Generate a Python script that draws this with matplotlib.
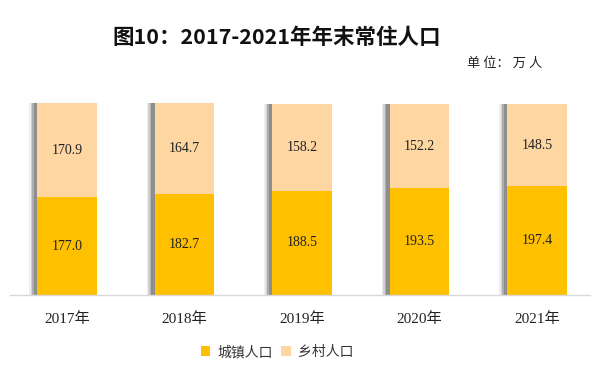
import matplotlib
matplotlib.use("Agg")
import matplotlib.pyplot as plt

years = ["2017年", "2018年", "2019年", "2020年", "2021年"]
urban = [177.0, 182.7, 188.5, 193.5, 197.4]
rural = [170.9, 164.7, 158.2, 152.2, 148.5]

c_urban = "#FFC000"
c_rural = "#FDD6A2"
cjk = ['Noto Sans CJK SC', 'DejaVu Sans']
serif = ['Liberation Serif', 'Noto Sans CJK SC']

fig = plt.figure(figsize=(6, 3.78), dpi=100)
ax = fig.add_axes([10/600, 83/378, 580/600, 192/378])

x = list(range(len(years)))
w = 0.51
tot = [u + r for u, r in zip(urban, rural)]

# soft shadow on left
for k, a in enumerate([0.12, 0.22, 0.35, 0.5]):
    off = 0.065 - k * 0.012
    ax.bar([i - off for i in x], tot, width=w, color="#6f6f6f", alpha=a,
           zorder=1, linewidth=0)

ax.bar(x, urban, width=w, color=c_urban, zorder=3, linewidth=0, label="城镇人口")
ax.bar(x, rural, width=w, bottom=urban, color=c_rural, zorder=3, linewidth=0, label="乡村人口")

for i in x:
    ax.text(i, urban[i] / 2, f"{urban[i]:.1f}", ha="center", va="center",
            fontsize=10, family=serif, color="#222222", zorder=4)
    ax.text(i, urban[i] + rural[i] / 2, f"{rural[i]:.1f}", ha="center", va="center",
            fontsize=10, family=serif, color="#222222", zorder=4)

ax.set_xlim(-0.485, 4.451)
ax.set_ylim(0, 348)
ax.set_yticks([])
ax.set_xticks(x)
ax.set_xticklabels(years, family=serif, fontsize=11, color="#222222")
ax.tick_params(axis="x", length=0, pad=12)
for s in ["top", "right", "left"]:
    ax.spines[s].set_visible(False)
ax.spines["bottom"].set_color("#d9d9d9")
ax.spines["bottom"].set_linewidth(1)
ax.spines["bottom"].set_zorder(5)

fig.text(277/600, 1 - 37/378, "图10：2017-2021年年末常住人口", ha="center", va="center",
         fontsize=15.5, fontweight="bold", family=cjk, color="#111111")
fig.text(505/600, 1 - 63/378, "单 位： 万 人", ha="center", va="center",
         fontsize=9.5, family=cjk, color="#222222")

leg = fig.legend(loc="center", bbox_to_anchor=(277/600, 1 - 352/378), ncol=2,
                 frameon=False, prop={"family": cjk, "size": 10},
                 handlelength=0.7, handleheight=0.7, handletextpad=0.5, columnspacing=0.6)
for t in leg.get_texts():
    t.set_color("#333333")

fig.savefig("out.png", dpi=100)
